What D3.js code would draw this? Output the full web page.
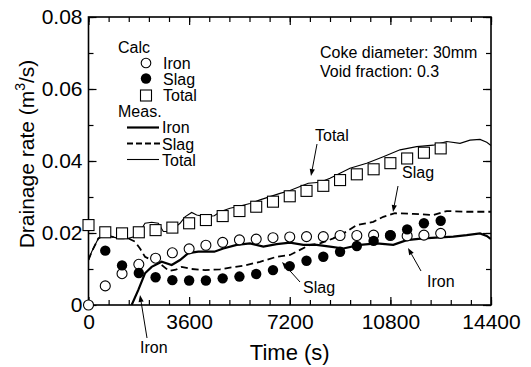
<!DOCTYPE html>
<html>
<head>
<meta charset="utf-8">
<script src="https://cdn.jsdelivr.net/npm/d3@7"></script>
<style>
    body { margin: 0; background: #fff; }
    svg text { font-family: "Liberation Sans", Arial, sans-serif; fill: #000; }
</style>
</head>
<body>
<div id="chart"></div>
<script>
// calculated values, one point every 600 s
const calcTime = [0, 600, 1200, 1800, 2400, 3000, 3600, 4200, 4800, 5400, 6000, 6600, 7200, 7800, 8400, 9000, 9600, 10200, 10800, 11400, 12000, 12600];
const calcIron = [0, 0.0053, 0.0087, 0.0113, 0.0130, 0.0145, 0.0156, 0.0166, 0.0174, 0.0181, 0.0183, 0.0187, 0.0189, 0.0190, 0.0190, 0.0193, 0.0193, 0.0194, 0.0193, 0.0192, 0.0194, 0.0199];
const calcSlag = [0.0222, 0.0151, 0.0110, 0.0089, 0.0077, 0.0069, 0.0068, 0.0068, 0.0074, 0.0079, 0.0086, 0.0097, 0.0108, 0.0123, 0.0134, 0.0148, 0.0164, 0.0178, 0.0194, 0.0210, 0.0227, 0.0234];
const calcTotal = [0.0222, 0.0202, 0.0199, 0.0202, 0.0208, 0.0215, 0.0227, 0.0236, 0.0247, 0.0261, 0.0273, 0.0287, 0.0302, 0.0317, 0.0331, 0.0347, 0.0363, 0.0377, 0.0394, 0.0407, 0.0423, 0.0435];

// measured curves
const measTotalTime = [0, 114, 352, 531, 829, 1067, 1425, 1663, 1843, 2021, 2260, 2498, 2677, 2915, 3274, 3452, 3691, 3870, 4168, 4501, 4705, 5063, 5420, 5778, 6135, 6494, 6852, 7209, 7567, 7865, 8283, 8640, 8998, 9355, 9953, 10547, 11145, 11741, 12338, 12815, 13292, 13649, 14007, 14247, 14400];
const measTotal = [0.0125, 0.0148, 0.0185, 0.0193, 0.0190, 0.0185, 0.0185, 0.0190, 0.0204, 0.0227, 0.0230, 0.0227, 0.0204, 0.0204, 0.0227, 0.0245, 0.0257, 0.0250, 0.0245, 0.0248, 0.0259, 0.0269, 0.0275, 0.0282, 0.0292, 0.0301, 0.0310, 0.0318, 0.0329, 0.0338, 0.0341, 0.0352, 0.0366, 0.0380, 0.0394, 0.0412, 0.0431, 0.0440, 0.0444, 0.0454, 0.0449, 0.0458, 0.0460, 0.0452, 0.0443];

const measSlagTime = [0, 114, 352, 531, 829, 1067, 1425, 1663, 1843, 2021, 2260, 2618, 2877, 3123, 3334, 3691, 4168, 4705, 5063, 5540, 6135, 6732, 7209, 7567, 7925, 8283, 8759, 9237, 9594, 10189, 10547, 10966, 11622, 12338, 12815, 13530, 14400];
const measSlag = [0.0125, 0.0148, 0.0185, 0.0193, 0.0190, 0.0185, 0.0185, 0.0176, 0.0157, 0.0134, 0.0125, 0.0111, 0.0095, 0.0098, 0.0106, 0.0100, 0.0097, 0.0099, 0.0104, 0.0109, 0.0120, 0.0134, 0.0139, 0.0153, 0.0167, 0.0171, 0.0185, 0.0204, 0.0222, 0.0231, 0.0245, 0.0255, 0.0253, 0.0250, 0.0261, 0.0259, 0.0259];

const measIronTime = [1544, 1783, 2021, 2260, 2618, 2976, 3274, 3571, 3928, 4501, 4823, 5301, 5778, 6255, 6732, 7209, 7686, 8163, 8640, 9117, 9714, 10310, 10905, 11384, 11980, 12576, 13051, 13530, 14007, 14247, 14400];
const measIron = [0, 0.0042, 0.0088, 0.0106, 0.0120, 0.0111, 0.0125, 0.0144, 0.0148, 0.0148, 0.0157, 0.0167, 0.0171, 0.0162, 0.0169, 0.0173, 0.0167, 0.0167, 0.0162, 0.0157, 0.0167, 0.0171, 0.0167, 0.0180, 0.0185, 0.0188, 0.0190, 0.0194, 0.0199, 0.0192, 0.0183];

const xTicks = [0, 3600, 7200, 10800, 14400];
const xTickLabels = ["0", "3600", "7200", "10800", "14400"];
const yTicks = [0, 0.02, 0.04, 0.06, 0.08];
const yTickLabels = ["0", "0.02", "0.04", "0.06", "0.08"];

const width = 531, height = 367;
const margin = {top: 17, right: 40, bottom: 62, left: 88.5};
const w = width - margin.left - margin.right;
const h = height - margin.top - margin.bottom;

const svg = d3.select("#chart").append("svg")
    .attr("width", width)
    .attr("height", height);

const x = d3.scaleLinear().domain([0, 14400]).range([0, w]);
const y = d3.scaleLinear().domain([0, 0.08]).range([h, 0]);

svg.append("defs").append("clipPath").attr("id", "clip")
    .append("rect").attr("width", w).attr("height", h);

const g = svg.append("g").attr("transform", `translate(${margin.left},${margin.top})`);

// minor ticks every 720 s / 0.01, majors every 3600 s / 0.02
const xMinor = d3.range(0, 14401, 720);
const yMinor = d3.range(0, 0.0801, 0.01);

function styleAxis(sel) {
    sel.select(".domain").remove();
    sel.selectAll("line").attr("stroke", "#000").attr("stroke-width", 1.2);
}

g.append("g").attr("transform", `translate(0,${h})`)
    .call(d3.axisBottom(x).tickValues(xMinor).tickSize(-5).tickFormat(""))
    .call(styleAxis);
g.append("g")
    .call(d3.axisTop(x).tickValues(xMinor).tickSize(-5).tickFormat(""))
    .call(styleAxis);
g.append("g")
    .call(d3.axisLeft(y).tickValues(yMinor).tickSize(-5).tickFormat(""))
    .call(styleAxis);
g.append("g").attr("transform", `translate(${w},0)`)
    .call(d3.axisRight(y).tickValues(yMinor).tickSize(-5).tickFormat(""))
    .call(styleAxis);

const xAxis = g.append("g").attr("transform", `translate(0,${h})`)
    .call(d3.axisBottom(x).tickValues(xTicks).tickSize(-8).tickPadding(9)
        .tickFormat((d, i) => xTickLabels[i]))
    .call(styleAxis);
xAxis.selectAll("text").style("font-size", "21px").attr("fill", "#000");

g.append("g")
    .call(d3.axisTop(x).tickValues(xTicks).tickSize(-8).tickFormat(""))
    .call(styleAxis);

const yAxis = g.append("g")
    .call(d3.axisLeft(y).tickValues(yTicks).tickSize(-8).tickPadding(6)
        .tickFormat((d, i) => yTickLabels[i]))
    .call(styleAxis);
yAxis.selectAll("text").style("font-size", "21px").attr("fill", "#000");

g.append("g").attr("transform", `translate(${w},0)`)
    .call(d3.axisRight(y).tickValues(yTicks).tickSize(-8).tickFormat(""))
    .call(styleAxis);

// frame
g.append("rect")
    .attr("width", w).attr("height", h)
    .attr("fill", "none").attr("stroke", "#000").attr("stroke-width", 1.6);

// axis titles
svg.append("text")
    .attr("x", margin.left + w / 2)
    .attr("y", 360)
    .attr("text-anchor", "middle")
    .style("font-size", "22px")
    .text("Time (s)");

const yTitle = svg.append("text")
    .attr("transform", "translate(34,154) rotate(-90)")
    .attr("text-anchor", "middle")
    .style("font-size", "21px");
yTitle.append("tspan").text("Drainage rate (m");
yTitle.append("tspan").attr("dy", -9).style("font-size", "14px").text("3");
yTitle.append("tspan").attr("dy", 9).text("/s)");

// measured lines
const plot = g.append("g").attr("clip-path", "url(#clip)");

function lineFor(times, vals) {
    return d3.line().x((d, i) => x(times[i])).y(d => y(d))(vals);
}

plot.append("path")
    .attr("d", lineFor(measTotalTime, measTotal))
    .attr("fill", "none").attr("stroke", "#000").attr("stroke-width", 1.1);
plot.append("path")
    .attr("d", lineFor(measSlagTime, measSlag))
    .attr("fill", "none").attr("stroke", "#000").attr("stroke-width", 1.8)
    .attr("stroke-dasharray", "7,4");
plot.append("path")
    .attr("d", lineFor(measIronTime, measIron))
    .attr("fill", "none").attr("stroke", "#000").attr("stroke-width", 2.2);

// calculated markers
g.selectAll(".iron").data(calcIron).join("circle")
    .attr("cx", (d, i) => x(calcTime[i])).attr("cy", d => y(d)).attr("r", 5)
    .attr("fill", "#fff").attr("stroke", "#000").attr("stroke-width", 1.1);
g.selectAll(".slag").data(calcSlag).join("circle")
    .attr("cx", (d, i) => x(calcTime[i])).attr("cy", d => y(d)).attr("r", 5.2)
    .attr("fill", "#000");
g.selectAll(".total").data(calcTotal).join("rect")
    .attr("x", (d, i) => x(calcTime[i]) - 5.5).attr("y", d => y(d) - 5.5)
    .attr("width", 11).attr("height", 11)
    .attr("fill", "#fff").attr("stroke", "#000").attr("stroke-width", 1.1);

// legend
const lg = svg.append("g").style("font-size", "16px");
lg.append("text").attr("x", 118).attr("y", 53).text("Calc");
lg.append("circle").attr("cx", 146).attr("cy", 63).attr("r", 4.8)
    .attr("fill", "#fff").attr("stroke", "#000").attr("stroke-width", 1.1);
lg.append("text").attr("x", 163).attr("y", 69).text("Iron");
lg.append("circle").attr("cx", 146).attr("cy", 78.5).attr("r", 5.2).attr("fill", "#000");
lg.append("text").attr("x", 163).attr("y", 85).text("Slag");
lg.append("rect").attr("x", 140.5).attr("y", 90).attr("width", 11).attr("height", 11)
    .attr("fill", "#fff").attr("stroke", "#000").attr("stroke-width", 1.1);
lg.append("text").attr("x", 163).attr("y", 101).text("Total");
lg.append("text").attr("x", 118).attr("y", 117).text("Meas.");
lg.append("line").attr("x1", 127).attr("x2", 159).attr("y1", 127.5).attr("y2", 127.5)
    .attr("stroke", "#000").attr("stroke-width", 2.2);
lg.append("text").attr("x", 162).attr("y", 133).text("Iron");
lg.append("line").attr("x1", 127).attr("x2", 160).attr("y1", 143.5).attr("y2", 143.5)
    .attr("stroke", "#000").attr("stroke-width", 1.8).attr("stroke-dasharray", "6,3");
lg.append("text").attr("x", 162).attr("y", 150).text("Slag");
lg.append("line").attr("x1", 127).attr("x2", 159).attr("y1", 159.5).attr("y2", 159.5)
    .attr("stroke", "#000").attr("stroke-width", 1.1);
lg.append("text").attr("x", 162).attr("y", 166).text("Total");

// condition note
lg.append("text").attr("x", 320).attr("y", 58).text("Coke diameter: 30mm");
lg.append("text").attr("x", 320).attr("y", 77).text("Void fraction: 0.3");

// annotations with arrows
const notes = [
    {text: "Total", tx: 315, ty: 141, from: [317, 144], to: [311, 176]},
    {text: "Slag", tx: 402, ty: 178, from: [398, 186], to: [393, 212]},
    {text: "Iron", tx: 427, ty: 287, from: [421, 271], to: [408, 248]},
    {text: "Slag", tx: 303, ty: 293, from: [300, 282], to: [282, 262]},
    {text: "Iron", tx: 140, ty: 353, from: [147, 338], to: [140, 295]}
];

notes.forEach(n => {
    lg.append("text").attr("x", n.tx).attr("y", n.ty).text(n.text);
    const dx = n.to[0] - n.from[0], dy = n.to[1] - n.from[1];
    const len = Math.sqrt(dx * dx + dy * dy);
    const ux = dx / len, uy = dy / len;
    const hl = 7, hw = 2.6;
    const bx = n.to[0] - ux * hl, by = n.to[1] - uy * hl;
    lg.append("line")
        .attr("x1", n.from[0]).attr("y1", n.from[1]).attr("x2", bx).attr("y2", by)
        .attr("stroke", "#000").attr("stroke-width", 1);
    lg.append("path")
        .attr("d", `M${n.to[0]},${n.to[1]}L${bx - uy * hw},${by + ux * hw}L${bx + uy * hw},${by - ux * hw}Z`)
        .attr("fill", "#000");
});
</script>
</body>
</html>
